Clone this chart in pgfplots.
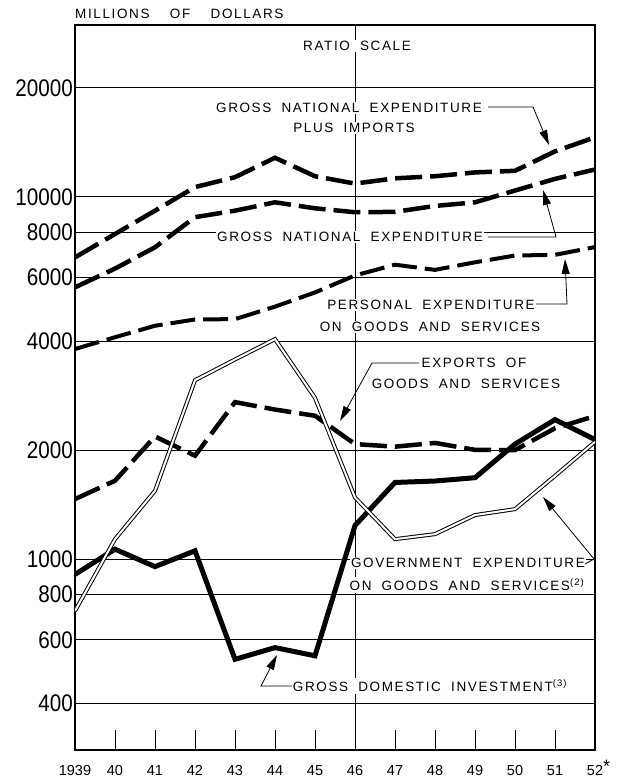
\documentclass[border=0pt]{standalone}
\usepackage{pgfplots}
\pgfplotsset{compat=1.18}
\usepackage{fontspec}
\setmainfont{Liberation Sans}
\newfontfamily\numfont[FakeStretch=0.86]{Liberation Sans}
\newfontfamily\lblfont[LetterSpace=12,WordSpace=1.9]{Liberation Sans}
\usetikzlibrary{arrows.meta}
\begin{document}
\begin{tikzpicture}
\begin{axis}[
  at={(0pt,0pt)}, anchor=south west,
  scale only axis, width=520pt, height=725pt,
  xmin=1939, xmax=1952,
  ymode=log, ymin=298, ymax=29800,
  axis line style={line width=1.2pt},
  ytick={400,600,800,1000,2000,4000,6000,8000,10000,20000},
  yticklabels={400,600,800,1000,2000,4000,6000,8000,10000,20000},
  ymajorgrids, grid style={black, line width=0.8pt},
  ytick style={draw=none}, minor y tick style={draw=none},
  yticklabel style={font=\numfont\fontsize{24}{24}\selectfont, inner sep=1pt, xshift=-1pt},
  xtick={1939,1940,1941,1942,1943,1944,1945,1946,1947,1948,1949,1950,1951,1952},
  xticklabels={1939,40,41,42,43,44,45,46,47,48,49,50,51,{52\rlap{\smash{\raisebox{3pt}{\fontsize{18}{18}\selectfont*}}}}},
  xtick pos=left,
  xtick align=inside, major tick length=20pt,
  xtick style={black, line width=1pt},
  xticklabel style={font=\fontsize{14.5}{14.5}\selectfont, inner sep=0pt, yshift=-15pt},
  extra x ticks={1946}, extra x tick labels={},
  extra x tick style={grid=major, major tick length=0pt},
]
% Gross national expenditure plus imports
\addplot[black, line width=4.5pt, dash pattern=on 27pt off 8pt] coordinates {
(1939,6810) (1940,7900) (1941,9160) (1942,10640) (1943,11330) (1944,12820) (1945,11400)
(1946,10880) (1947,11250) (1948,11400) (1949,11680) (1950,11800) (1951,13350) (1952,14600)};
% Gross national expenditure
\addplot[black, line width=4.5pt, dash pattern=on 27pt off 8pt] coordinates {
(1939,5630) (1940,6340) (1941,7260) (1942,8790) (1943,9160) (1944,9660) (1945,9300)
(1946,9070) (1947,9090) (1948,9440) (1949,9660) (1950,10410) (1951,11210) (1952,11900)};
% Personal expenditure
\addplot[black, line width=4pt, dash pattern=on 25pt off 8pt] coordinates {
(1939,3805) (1940,4100) (1941,4410) (1942,4590) (1943,4600) (1944,4980) (1945,5450)
(1946,6070) (1947,6500) (1948,6290) (1949,6600) (1950,6890) (1951,6920) (1952,7270)};
% Exports
\addplot[black, line width=4.5pt, dash pattern=on 27pt off 8pt] coordinates {
(1939,1467) (1940,1648) (1941,2183) (1942,1932) (1943,2715) (1944,2590) (1945,2490)
(1946,2080) (1947,2046) (1948,2095) (1949,2005) (1950,2002) (1951,2300) (1952,2485)};
% Gross domestic investment
\addplot[black, line width=5pt] coordinates {
(1939,909) (1940,1067) (1941,955) (1942,1056) (1943,530) (1944,571) (1945,542)
(1946,1240) (1947,1630) (1948,1645) (1949,1680) (1950,2080) (1951,2430) (1952,2140)};
% Government expenditure (double line)
\addplot[draw=black, line width=1pt, double=white, double distance=2pt] coordinates {
(1939,721) (1940,1137) (1941,1546) (1942,3120) (1943,3560) (1944,4050) (1945,2790)
(1946,1482) (1947,1137) (1948,1174) (1949,1325) (1950,1376) (1951,1700) (1952,2110)};
\end{axis}
\begin{scope}[x={(1pt,0pt)}, y={(0pt,-1pt)}, shift={(-75pt,750pt)},
  lbl/.style={font=\lblfont\fontsize{13.5}{15}\selectfont, fill=white, inner sep=1.5pt},
  ldr/.style={line width=0.8pt, -{Triangle[length=15pt,width=8pt]}}]
\node[anchor=west, font=\lblfont\fontsize{13.5}{15}\selectfont, inner sep=0pt] at (75,14) {MILLIONS \ OF \ DOLLARS};
\node[lbl] at (357,46) {RATIO SCALE};
\node[lbl] at (349,108) {GROSS NATIONAL EXPENDITURE};
\node[lbl] at (354,128) {PLUS IMPORTS};
\draw[ldr] (488,107) -- (533,107) -- (549,145);
\node[lbl] at (350,237) {GROSS NATIONAL EXPENDITURE};
\draw[ldr] (488,237) -- (556,237) -- (543,190);
\node[lbl] at (431,305) {PERSONAL EXPENDITURE};
\node[lbl] at (430,327) {ON GOODS AND SERVICES};
\draw[ldr] (536,304) -- (567,304) -- (565,259);
\node[lbl] at (474,363) {EXPORTS OF};
\node[lbl] at (466,384) {GOODS AND SERVICES};
\draw[ldr] (419,363) -- (372,363) -- (340,421);
\node[lbl] at (468,563) {GOVERNMENT EXPENDITURE};
\node[lbl] at (467,585) {ON GOODS AND SERVICES\textsuperscript{(2)}};
\draw[ldr] (585,564) -- (594,559) -- (543,497);
\node[lbl] at (430,686) {GROSS DOMESTIC INVESTMENT\textsuperscript{(3)}};
\draw[ldr] (292,686) -- (261,686) -- (277,655);
\end{scope}
\path (-75pt,-31pt) rectangle (547pt,750pt);
\end{tikzpicture}
\end{document}
